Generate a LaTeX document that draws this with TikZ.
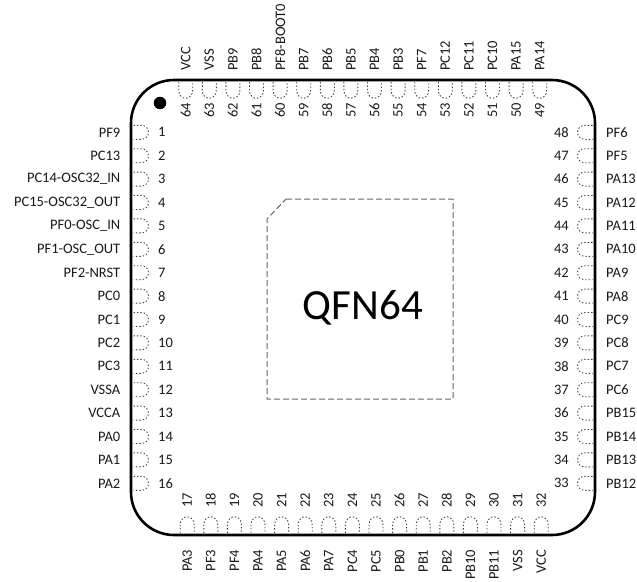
\documentclass[tikz,border=0pt]{standalone}
\usepackage{fontspec}
\setmainfont{Carlito}
\tikzset{
  pkg/.style={draw=black,line width=2.6pt,rounded corners=43pt},
  pad/.style={draw=black!75,line width=0.9pt,dash pattern=on 1.4pt off 2pt},
  die/.style={draw=black!60,line width=1pt,dash pattern=on 6pt off 3pt},
  lbl/.style={inner sep=0pt,font=\fontsize{14.5pt}{16pt}\selectfont,text=black!90},
  num/.style={lbl},
  dot/.style={circle,fill=black,inner sep=0pt,minimum size=12.5pt},
  title/.style={inner sep=0pt,font=\fontsize{43pt}{48pt}\selectfont}
}
\begin{document}
\begin{tikzpicture}[x=1pt,y=-1pt]
\useasboundingbox (0,0) rectangle (637,581);
\draw[pkg] (131,80) rectangle (595,535);
\node[dot] (pin1mark) at (160,103) {};
\draw[die] (286,199) -- (453,199) -- (453,399) -- (267,399) -- (267,219) -- cycle;
\node[title] (qfn) at (363,308) {QFN64};
% left side
\foreach \n/\t [evaluate=\n as \yy using {132.3+(\n-1)*23.4}] in {1/PF9,2/PC13,3/PC14-OSC32\_IN,4/PC15-OSC32\_OUT,5/PF0-OSC\_IN,6/PF1-OSC\_OUT,7/PF2-NRST,8/PC0,9/PC1,10/PC2,11/PC3,12/VSSA,13/VCCA,14/PA0,15/PA1,16/PA2}{
  \draw[pad] (133.5,\yy-7) -- (141,\yy-7) .. controls (151,\yy-7) and (151,\yy+7) .. (141,\yy+7) -- (133.5,\yy+7);
  \node[lbl,anchor=east] (L\n) at (120.5,\yy) {\t};
  \node[num,anchor=west] (N\n) at (158,\yy) {\n};
}
% right side
\foreach \n/\t [evaluate=\n as \yy using {132.3+(48-\n)*23.4}] in {48/PF6,47/PF5,46/PA13,45/PA12,44/PA11,43/PA10,42/PA9,41/PA8,40/PC9,39/PC8,38/PC7,37/PC6,36/PB15,35/PB14,34/PB13,33/PB12}{
  \draw[pad] (592.5,\yy-7) -- (585,\yy-7) .. controls (575,\yy-7) and (575,\yy+7) .. (585,\yy+7) -- (592.5,\yy+7);
  \node[lbl,anchor=west] (R\n) at (606,\yy) {\t};
  \node[num,anchor=east] (N\n) at (569,\yy) {\n};
}
% bottom side
\foreach \n/\t [evaluate=\n as \xx using {187.2+(\n-17)*23.6}] in {17/PA3,18/PF3,19/PF4,20/PA4,21/PA5,22/PA6,23/PA7,24/PC4,25/PC5,26/PB0,27/PB1,28/PB2,29/PB10,30/PB11,31/VSS,32/VCC}{
  \draw[pad] (\xx-7,533) -- (\xx-7,525) .. controls (\xx-7,514) and (\xx+7,514) .. (\xx+7,525) -- (\xx+7,533);
  \node[lbl,rotate=90,anchor=east] (B\n) at (\xx,549.5) {\t};
  \node[num,rotate=90] (N\n) at (\xx,500.5) {\n};
}
% top side
\foreach \n/\t [evaluate=\n as \xx using {185.7+(64-\n)*23.6}] in {64/VCC,63/VSS,62/PB9,61/PB8,60/PF8-BOOT0,59/PB7,58/PB6,57/PB5,56/PB4,55/PB3,54/PF7,53/PC12,52/PC11,51/PC10,50/PA15,49/PA14}{
  \draw[pad] (\xx-7,82) -- (\xx-7,90) .. controls (\xx-7,101) and (\xx+7,101) .. (\xx+7,90) -- (\xx+7,82);
  \node[lbl,rotate=90,anchor=west] (T\n) at (\xx,71) {\t};
  \node[num,rotate=90] (N\n) at (\xx,110.5) {\n};
}
\end{tikzpicture}
\end{document}
